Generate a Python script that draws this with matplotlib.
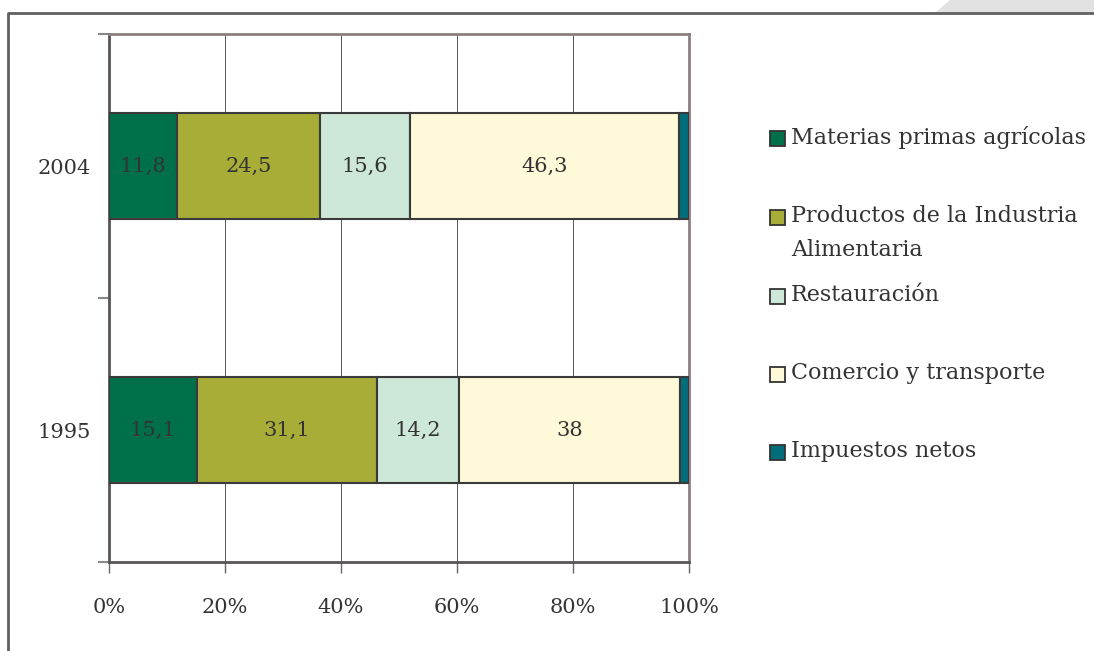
import matplotlib
matplotlib.use("Agg")
import matplotlib.pyplot as plt
from matplotlib.patches import Rectangle, Polygon
from matplotlib.lines import Line2D
import numpy as np

# ==== Data ====
years = ["1995", "2004"]
series = ["Materias primas agrícolas", "Productos de la Industria\nAlimentaria",
          "Restauración", "Comercio y transporte", "Impuestos netos"]
colors = ["#00704a", "#a8ad38", "#cde7d8", "#fef9d8", "#006e7a"]
values_1995 = [15.1, 31.1, 14.2, 38.0, 1.6]
values_2004 = [11.8, 24.5, 15.6, 46.3, 1.8]
show_label = [True, True, True, True, False]
xtick_labels = ["0%", "20%", "40%", "60%", "80%", "100%"]

plt.rcParams['font.family'] = ['DejaVu Serif']
text_col = "#333333"
W, H = 1094, 651

fig = plt.figure(figsize=(W / 100, H / 100), dpi=100)
ax = fig.add_axes([109 / W, 1 - 562 / H, 580 / W, 528 / H])

data = np.array([values_1995, values_2004])
pct = data / data.sum(axis=1, keepdims=True) * 100
y = np.arange(len(years))
left = np.zeros(len(years))
for i, name in enumerate(series):
    bars = ax.barh(y, pct[:, i], left=left, height=0.4, color=colors[i],
                   edgecolor="#3a3a3a", linewidth=1.5, zorder=3, label=name)
    if show_label[i]:
        for j in range(len(years)):
            txt = f"{data[j, i]:g}".replace(".", ",")
            ax.text(left[j] + pct[j, i] / 2, y[j], txt, ha="center", va="center",
                    fontsize=15, color=text_col, zorder=4)
    left += pct[:, i]

ax.set_xlim(0, 100)
ax.set_ylim(-0.5, 1.5)
ax.set_xticks(np.linspace(0, 100, len(xtick_labels)))
ax.set_xticklabels(xtick_labels, fontsize=15, color=text_col)
ax.set_yticks(y)
ax.set_yticklabels(years, fontsize=15, color=text_col)
ax.set_yticks([-0.5, 0.5, 1.5], minor=True)
ax.tick_params(axis="y", which="major", length=0, pad=13)
ax.tick_params(axis="y", which="minor", length=8, width=1.5, color="#888888")
ax.tick_params(axis="x", length=8, width=1, color="#666666", pad=18)
ax.grid(axis="x", color="#555555", linewidth=0.7, zorder=1)

for s in ["left", "bottom"]:
    ax.spines[s].set_color("#5a5555")
    ax.spines[s].set_linewidth(2)
for s in ["top", "right"]:
    ax.spines[s].set_color("#8c8080")
    ax.spines[s].set_linewidth(2)

# ==== Legend (drawn by hand to match spacing) ====
leg_y = [138, 217, 296, 374, 452]
for name, c, yy in zip(series, colors, leg_y):
    fig.patches.append(Rectangle((770 / W, 1 - (yy + 7.5) / H), 15 / W, 15 / H,
                                 facecolor=c, edgecolor="#333333", linewidth=1.3,
                                 transform=fig.transFigure, figure=fig))
    fig.text(791 / W, 1 - (yy - 12) / H, name, ha="left", va="top",
             fontsize=16, color=text_col, linespacing=1.7)

# ==== Page frame ====
fig.patches.append(Polygon([(935 / W, 1 - 13 / H), (950 / W, 1.0), (1.0, 1.0),
                            (1.0, 1 - 13 / H)], closed=True, facecolor="#e2e2e2",
                           edgecolor="none", transform=fig.transFigure, figure=fig))
fig.lines.append(Line2D([8 / W, 8 / W, 1.0], [0, 1 - 13 / H, 1 - 13 / H],
                        color="#606060", linewidth=2, transform=fig.transFigure,
                        figure=fig))

fig.savefig("out.png", dpi=100)
